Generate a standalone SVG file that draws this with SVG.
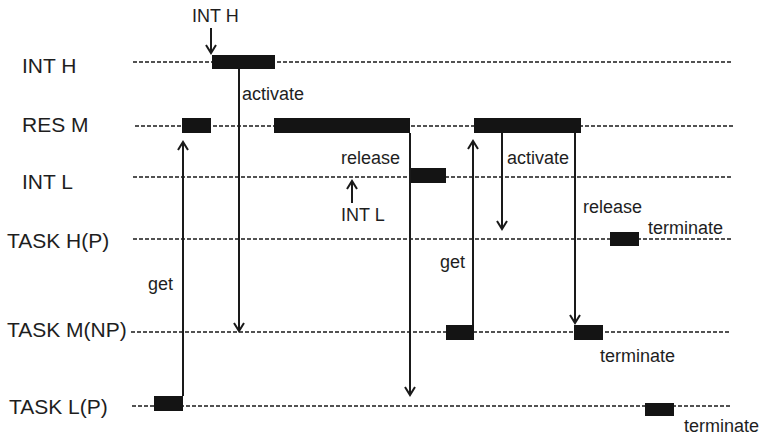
<svg xmlns="http://www.w3.org/2000/svg" width="764" height="438" viewBox="0 0 764 438">
  <style>
    .lane { stroke: #1a1a1a; stroke-width: 1.6; stroke-dasharray: 4 2; fill: none; }
    .bar { fill: #141414; }
    .row { font-family: "Liberation Sans", Arial, sans-serif; font-size: 21px; fill: #1e1e1e; }
    .lbl { font-family: "Liberation Sans", Arial, sans-serif; font-size: 18px; fill: #1e1e1e; }
    .conn { stroke: #1a1a1a; stroke-width: 2; fill: none; }
  </style>
  <defs>
    <marker id="head" viewBox="0 0 12 12" refX="10" refY="6" markerWidth="12" markerHeight="12" markerUnits="userSpaceOnUse" orient="auto">
      <path d="M2,1 L10,6 L2,11" fill="none" stroke="#1a1a1a" stroke-width="2"/>
    </marker>
  </defs>
  <rect width="764" height="438" fill="#ffffff"/>

  <!-- INT H -->
  <g id="int-h">
    <text class="row" x="22" y="73">INT H</text>
    <line class="lane" x1="133" y1="62" x2="732" y2="62"/>
    <rect class="bar" x="212" y="55" width="63" height="14"/>
  </g>

  <!-- RES M -->
  <g id="res-m">
    <text class="row" x="22" y="132">RES M</text>
    <line class="lane" x1="135" y1="126" x2="733" y2="126"/>
    <rect class="bar" x="182" y="118" width="29" height="15"/>
    <rect class="bar" x="274" y="118" width="136" height="15"/>
    <rect class="bar" x="474" y="118" width="107" height="15"/>
  </g>

  <!-- INT L -->
  <g id="int-l">
    <text class="row" x="22" y="189">INT L</text>
    <line class="lane" x1="133" y1="177" x2="731" y2="177"/>
    <rect class="bar" x="410" y="168" width="36" height="15"/>
  </g>

  <!-- TASK H(P) -->
  <g id="task-h">
    <text class="row" x="7" y="248">TASK H(P)</text>
    <line class="lane" x1="133" y1="239" x2="731" y2="239"/>
    <rect class="bar" x="610" y="232" width="29" height="14"/>
  </g>

  <!-- TASK M(NP) -->
  <g id="task-m">
    <text class="row" x="7" y="337">TASK M(NP)</text>
    <line class="lane" x1="131" y1="332" x2="730" y2="332"/>
    <rect class="bar" x="446" y="325" width="28" height="15"/>
    <rect class="bar" x="574" y="325" width="29" height="15"/>
  </g>

  <!-- TASK L(P) -->
  <g id="task-l">
    <text class="row" x="9" y="414">TASK L(P)</text>
    <line class="lane" x1="132" y1="406" x2="730" y2="406"/>
    <rect class="bar" x="154" y="396" width="29" height="15"/>
    <rect class="bar" x="645" y="403" width="29" height="13"/>
  </g>

  <!-- events and resource transfers -->
  <g id="connectors">
    <line class="conn" x1="211" y1="28" x2="211" y2="53" marker-end="url(#head)"/>
    <line class="conn" x1="239" y1="69" x2="239" y2="331" marker-end="url(#head)"/>
    <line class="conn" x1="183" y1="396" x2="183" y2="142" marker-end="url(#head)"/>
    <line class="conn" x1="410" y1="133" x2="410" y2="395" marker-end="url(#head)"/>
    <line class="conn" x1="352" y1="203" x2="352" y2="181" marker-end="url(#head)"/>
    <line class="conn" x1="473" y1="325" x2="473" y2="141" marker-end="url(#head)"/>
    <line class="conn" x1="502" y1="133" x2="502" y2="229" marker-end="url(#head)"/>
    <line class="conn" x1="575" y1="133" x2="575" y2="323" marker-end="url(#head)"/>
  </g>

  <!-- connector labels -->
  <g id="labels">
    <text class="lbl" x="192" y="22">INT H</text>
    <text class="lbl" x="242" y="100">activate</text>
    <text class="lbl" x="341" y="164">release</text>
    <text class="lbl" x="341" y="221">INT L</text>
    <text class="lbl" x="148" y="290">get</text>
    <text class="lbl" x="440" y="268">get</text>
    <text class="lbl" x="507" y="164">activate</text>
    <text class="lbl" x="583" y="213">release</text>
    <text class="lbl" x="648" y="234">terminate</text>
    <text class="lbl" x="600" y="362">terminate</text>
    <text class="lbl" x="684" y="432">terminate</text>
  </g>
</svg>
